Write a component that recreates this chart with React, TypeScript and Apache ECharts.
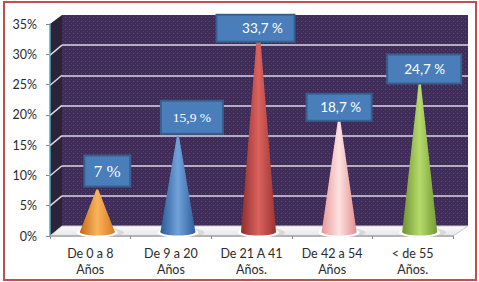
import React, { useEffect, useRef } from "react";
import * as echarts from "echarts";

const categories = ["De 0 a 8\nAños", "De 9 a 20\nAños", "De 21 A 41\nAños.", "De 42 a 54\nAños", "< de 55\nAños."];
const values = [7, 15.9, 33.7, 18.7, 24.7];
const labelTexts = ["7 %", "15,9 %", "33,7 %", "18,7 %", "24,7 %"];
const labelFonts = ["Liberation Serif", "Liberation Serif", "Lato", "Lato", "Lato"];
const labelSizes = [17, 13.5, 13.5, 13.5, 13.5];
const labelWidths = [46, 62, 78, 65, 74];
const labelHeights = [31, 33, 27, 27, 29];
const labelDx = [10, 14, -3, 0, 4.5];
const labelTextDx = [0, 0, 7, 1.5, 0.5];
const labelBottomDy = [-3, -2, 14, 2, 1];
const coneShades = [
  ["#c46a14", "#fbb35e", "#d67a1e"],
  ["#2b5b96", "#72a2da", "#2c5e9b"],
  ["#8e2e2c", "#dc625e", "#9b3431"],
  ["#e79696", "#fde2e2", "#e48e8e"],
  ["#6e9330", "#b6db6c", "#749b33"],
];
const tickValues = [0, 5, 10, 15, 20, 25, 30, 35];

const DEPTH_X = 12;
const DEPTH_Y = 10;
const CONE_DX = 7;
const CONE_DY = -4;
const CONE_HW = 17.5;

function makeTile() {
  const c = document.createElement("canvas");
  c.width = 4;
  c.height = 4;
  const g = c.getContext("2d")!;
  g.fillStyle = "#402c58";
  g.fillRect(0, 0, 4, 4);
  g.fillStyle = "#5f4f78";
  g.fillRect(1, 1, 1, 1);
  g.fillStyle = "#4d3a66";
  g.fillRect(3, 3, 1, 1);
  return c;
}

export default function App() {
  const ref = useRef<HTMLDivElement>(null);
  useEffect(() => {
    const chart = echarts.init(ref.current!, null, { renderer: "svg" });
    const tile = makeTile();
    const wall = { image: tile, repeat: "repeat", imageWidth: 4, imageHeight: 4 };
    chart.setOption({
      animation: false,
      backgroundColor: "#ffffff",
      graphic: [
        { type: "rect", z: -10, shape: { x: 4, y: 2, width: 472, height: 278 }, style: { fill: "#ffffff", stroke: "#c0504d", lineWidth: 2 } },
        { type: "rect", z: -9, shape: { x: 62, y: 15, width: 406, height: 211 }, style: { fill: wall } },
        { type: "polygon", z: -9, shape: { points: [[50, 236], [62, 226], [62, 15], [50, 24]] }, style: { fill: "#2c2339" } },
        {
          type: "polygon", z: -9,
          shape: { points: [[50, 236], [62, 226], [468, 226], [453, 236]] },
          style: { fill: { type: "linear", x: 0, y: 0, x2: 0, y2: 1, colorStops: [{ offset: 0, color: "#fbfbfb" }, { offset: 1, color: "#e6e6e6" }] }, stroke: "#c8c8c8", lineWidth: 1 },
        },
      ],
      grid: [
        { left: 50, right: 26, top: 24, bottom: 46 },
        { left: 62, right: 11, top: 15, bottom: 56 },
      ],
      xAxis: [
        {
          type: "category", gridIndex: 0, data: categories,
          axisLine: { lineStyle: { color: "#a6a6a6", width: 1.5 } },
          axisTick: { show: true, length: 3, lineStyle: { color: "#8c8c8c" } },
          axisLabel: { color: "#2b2b2b", fontFamily: "Lato", fontSize: 12.5, lineHeight: 16, margin: 9, interval: 0 },
        },
        { type: "category", gridIndex: 1, data: categories, show: false },
      ],
      yAxis: [
        {
          type: "value", gridIndex: 0, min: 0, max: 35, interval: 5,
          axisLine: { show: true, lineStyle: { color: "#4bacc6", width: 1.5 } },
          axisTick: { show: true, length: 4, lineStyle: { color: "#7f8f96" } },
          splitLine: { show: false },
          axisLabel: { color: "#2b2b2b", fontFamily: "Lato", fontSize: 12.5, margin: 13, formatter: "{value}%" },
        },
        {
          type: "value", gridIndex: 1, min: 0, max: 35, interval: 5,
          axisLine: { show: false }, axisTick: { show: false }, axisLabel: { show: false },
          splitLine: { show: true, showMinLine: false, showMaxLine: false, lineStyle: { color: "#dcd6e4", width: 1.5, type: "solid" } },
        },
      ],
      series: [
        {
          type: "custom", xAxisIndex: 1, yAxisIndex: 1, silent: true, z: 1, clip: false,
          coordinateSystem: "cartesian2d",
          data: tickValues.slice(1, 7).map((v) => [0, v]),
          renderItem: (_p: any, api: any) => {
            const back = api.coord([0, api.value(1)]);
            const lx = 62;
            return {
              type: "line",
              shape: { x1: lx - DEPTH_X, y1: back[1] + DEPTH_Y, x2: lx, y2: back[1] },
              style: { stroke: "#dcd6e4", lineWidth: 1.5 },
            };
          },
        },
        {
          type: "custom", xAxisIndex: 0, yAxisIndex: 0, silent: true, z: 3, clip: false,
          coordinateSystem: "cartesian2d",
          data: values.map((v, i) => [i, v]),
          renderItem: (_p: any, api: any) => {
            const i = api.value(0);
            const apex = api.coord([i, api.value(1)]);
            const base = api.coord([i, 0]);
            const cx = base[0] + CONE_DX;
            const by = base[1] + CONE_DY;
            const ay = apex[1] + CONE_DY;
            const s = coneShades[i];
            const fill = {
              type: "linear", x: 0, y: 0, x2: 1, y2: 0,
              colorStops: [{ offset: 0, color: s[0] }, { offset: 0.5, color: s[1] }, { offset: 1, color: s[2] }],
            };
            const w = labelWidths[i];
            const h = labelHeights[i];
            const bx = cx + labelDx[i] - w / 2;
            const bb = ay + labelBottomDy[i];
            return {
              type: "group",
              children: [
                { type: "ellipse", shape: { cx: cx + 4, cy: by + 0.5, rx: CONE_HW + 5, ry: 4.5 }, style: { fill: "#c4c4c4", opacity: 0.5 } },
                { type: "ellipse", shape: { cx, cy: by + 0.5, rx: CONE_HW + 3, ry: 5 }, style: { fill: "#ffffff" } },
                { type: "polygon", shape: { points: [[cx - 1, ay], [cx + 1, ay], [cx + CONE_HW, by], [cx - CONE_HW, by]] }, style: { fill } },
                { type: "ellipse", shape: { cx, cy: by, rx: CONE_HW, ry: 3.5 }, style: { fill } },
                { type: "rect", shape: { x: bx, y: bb - h, width: w, height: h }, style: { fill: "#4a7ebb", stroke: "#37608f", lineWidth: 2 } },
                {
                  type: "text",
                  style: {
                    text: labelTexts[i], x: bx + w / 2 + labelTextDx[i], y: bb - h / 2, align: "center", verticalAlign: "middle",
                    fill: "#ffffff", font: `${labelSizes[i]}px "${labelFonts[i]}"`,
                  },
                },
              ],
            };
          },
        },
      ],
    });
    return () => chart.dispose();
  }, []);
  return <div ref={ref} style={{ position: "fixed", left: 0, top: 0, width: 479, height: 282 }} />;
}
